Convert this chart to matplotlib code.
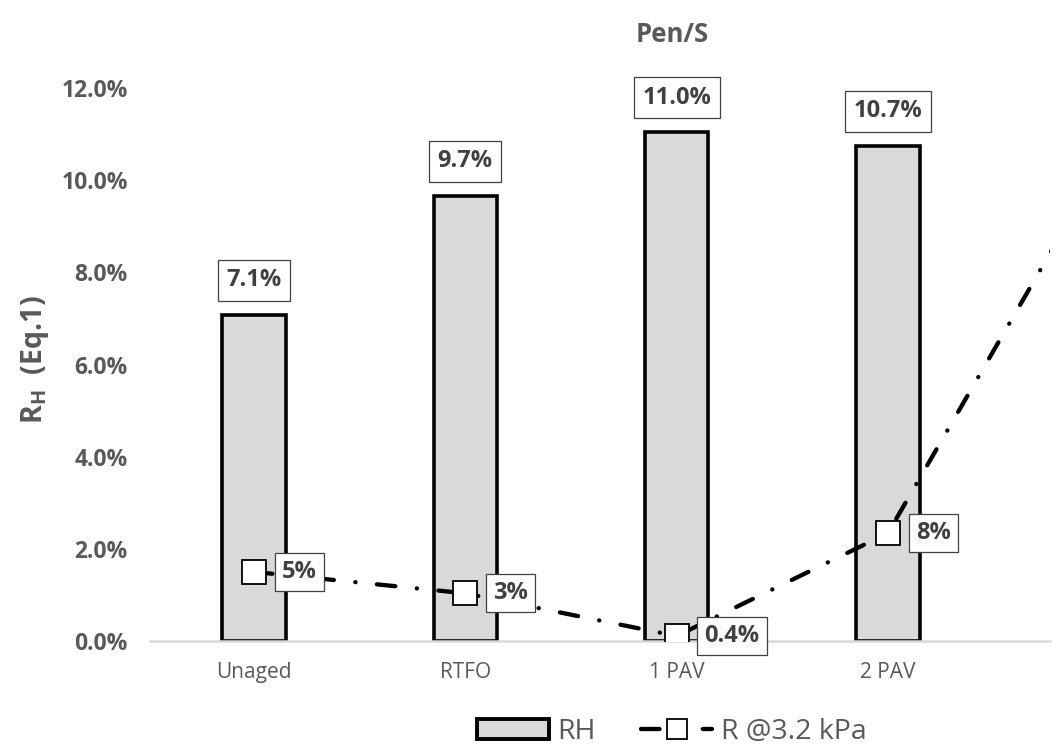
import matplotlib
matplotlib.use("Agg")
import matplotlib.pyplot as plt
from matplotlib.patches import Patch
from matplotlib.lines import Line2D
import numpy as np

plt.rcParams['font.family'] = ['Open Sans', 'DejaVu Sans']
plt.rcParams['mathtext.fontset'] = 'custom'
plt.rcParams['mathtext.rm'] = 'Open Sans'
plt.rcParams['mathtext.bf'] = 'Open Sans:bold'

categories = ['Unaged', 'RTFO', '1 PAV', '2 PAV']
rh = [0.0708, 0.0966, 0.1104, 0.1074]
rh_labels = ['7.1%', '9.7%', '11.0%', '10.7%']
# R @3.2 kPa on hidden secondary axis, 5th point lies past the cropped right edge
r_32 = [0.050, 0.0345, 0.0036, 0.078, 0.342]
r_labels = ['5%', '3%', '0.4%', '8%']

grey = '#595959'
dark = '#404040'
dash_pat = (4.3, 5.0, 0.05, 5.0)

fig = plt.figure(figsize=(10.57, 7.54), dpi=100)
ax = fig.add_axes([150 / 1057, 1 - 641 / 754, 900 / 1057, (641 - 88) / 754])

x = np.arange(len(categories))
ax.bar(x, rh, width=0.30, color='#d9d9d9', edgecolor='black', linewidth=2.6, zorder=2)
for xi, v, lab in zip(x, rh, rh_labels):
    ax.annotate(lab, (xi, v), xytext=(0, 25), textcoords='offset points',
                ha='center', va='center', fontsize=17, fontweight='bold', color=dark,
                bbox=dict(boxstyle='square,pad=0.36', fc='white', ec=dark, lw=0.9), zorder=5)

ax.set_xlim(-0.492, 3.767)
ax.set_ylim(0, 0.12)
ax.set_yticks(np.arange(0, 0.121, 0.02))
ax.set_yticklabels([f'{t * 100:.1f}%' for t in np.arange(0, 0.121, 0.02)])
ax.set_xticks(x, categories)
ax.tick_params(axis='x', length=0, pad=15, labelsize=15, labelcolor=grey)
ax.tick_params(axis='y', length=0, pad=16, labelsize=16.5, labelcolor=grey)
for t in ax.get_yticklabels():
    t.set_fontweight('bold')
for s in ['top', 'right', 'left']:
    ax.spines[s].set_visible(False)
ax.spines['bottom'].set_color('#d9d9d9')
ax.spines['bottom'].set_linewidth(1.8)
ax.spines['bottom'].set_zorder(3)

ax2 = ax.twinx()
ax2.set_ylim(0, 0.40)
ax2.axis('off')
ax2.plot(np.arange(len(r_32)), r_32, color='black', lw=3.1,
         dashes=dash_pat, dash_capstyle='round',
         marker='s', markersize=17, markerfacecolor='white',
         markeredgecolor='black', markeredgewidth=1.3, zorder=4)
for xi, v, lab in zip(x, r_32, r_labels):
    ax2.annotate(lab, (xi, v), xytext=(20, 0), textcoords='offset points',
                 ha='left', va='center', fontsize=17, fontweight='bold', color=dark,
                 bbox=dict(boxstyle='square,pad=0.3', fc='white', ec=dark, lw=0.9),
                 zorder=6, annotation_clip=False)

fig.text(672 / 1057, 1 - 35 / 754, 'Pen/S', ha='center', va='center',
         fontsize=18.5, fontweight='bold', color=grey)
fig.text(35 / 1057, 1 - 360 / 754, r'$\mathbf{R}_\mathbf{H}$  (Eq.1)', rotation=90,
         ha='center', va='center', fontsize=20.5, fontweight='bold', color=grey)

handles = [
    Patch(facecolor='#d9d9d9', edgecolor='black', linewidth=2.8, label='RH'),
    Line2D([], [], color='black', lw=3.1, dashes=dash_pat,
           dash_capstyle='round', marker='s', markersize=14,
           markerfacecolor='white', markeredgecolor='black',
           markeredgewidth=1.3, label='R @3.2 kPa'),
]
leg = fig.legend(handles=handles, loc='center', bbox_to_anchor=(672 / 1057, 1 - 732 / 754),
                 ncol=2, frameon=False, fontsize=20.5, handlelength=2.5, handleheight=0.7,
                 handletextpad=0.3, columnspacing=1.6)
for t in leg.get_texts():
    t.set_color(grey)

fig.savefig('out.png', dpi=100)
